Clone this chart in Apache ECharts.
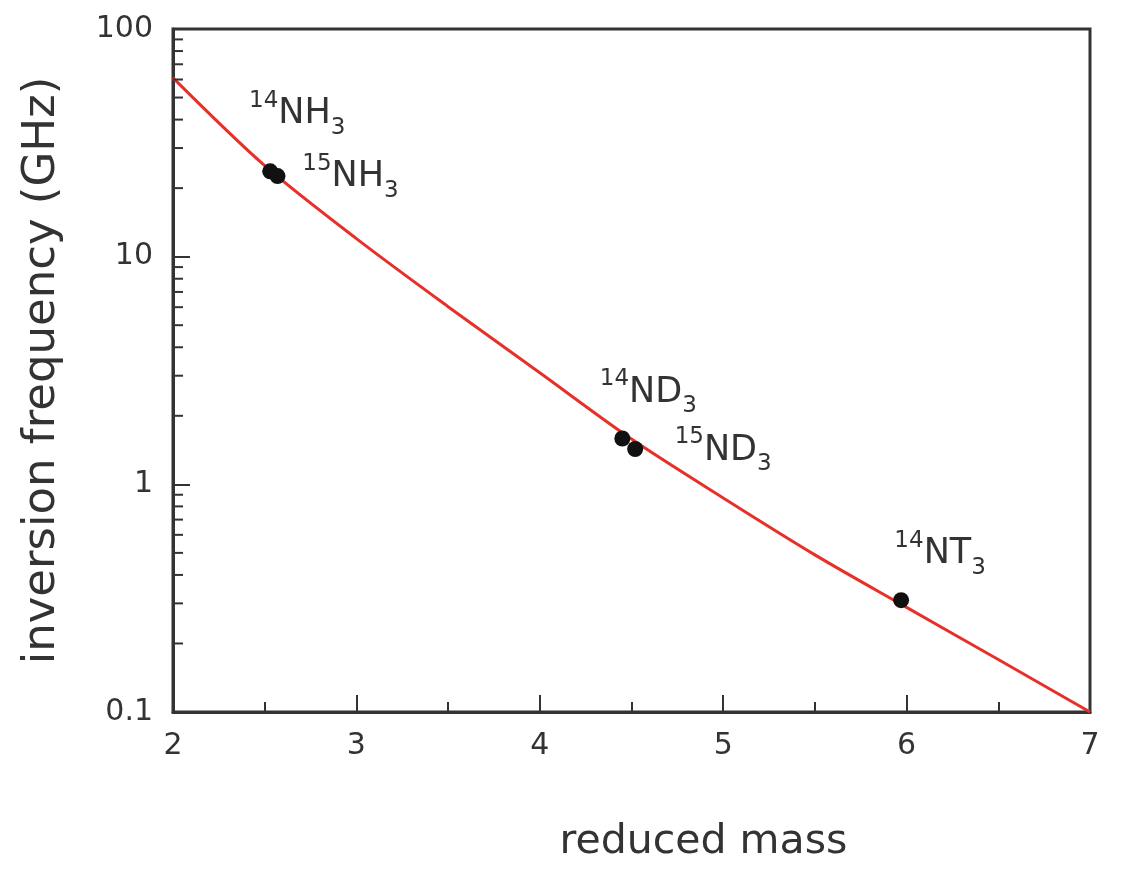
<!DOCTYPE html>
<html>
<head>
<meta charset="utf-8">
<script src="https://cdn.jsdelivr.net/npm/echarts@6/dist/echarts.min.js"></script>
<style>html,body{margin:0;padding:0;background:#fff;}#chart{width:1121px;height:871px;}</style>
</head>
<body>
<div id="chart"></div>
<script>
// ---- data ----
const curveMass = [2, 2.5, 3, 3.5, 4, 4.5, 5, 5.5, 6, 6.5, 7];
const curveFreq = [61, 25.1, 12.0, 6.03, 3.09, 1.58, 0.871, 0.49, 0.288, 0.17, 0.1];
const molIsotope = ['14', '15', '14', '15', '14'];
const molFormula = ['NH', 'NH', 'ND', 'ND', 'NT'];
const molMass = [2.53, 2.57, 4.45, 4.52, 5.97];
const molFreq = [23.7, 22.6, 1.59, 1.43, 0.31];
const yMinorTickValues = [0.2, 0.3, 0.4, 0.5, 0.6, 0.7, 0.8, 0.9, 2, 3, 4, 5, 6, 7, 8, 9, 20, 30, 40, 50, 60, 70, 80, 90];
const xMin = 2, xMax = 7, yMin = 0.1, yMax = 100;

// ---- styling ----
const FONT = 'DejaVu Sans';
const TXT = '#333333';
const labelOffsets = [[27, -57], [73, 1], [26, -46], [88, 2], [39, -46]];

const chart = echarts.init(document.getElementById('chart'), null, {renderer: 'canvas'});

const scatterData = molMass.map((m, i) => ({
  value: [m, molFreq[i]],
  label: {
    show: true,
    position: 'inside',
    align: 'center',
    verticalAlign: 'middle',
    offset: labelOffsets[i],
    color: TXT,
    formatter: '{sup|' + molIsotope[i] + '}{main|' + molFormula[i] + '}{sub|3}',
    rich: {
      sup: {fontFamily: FONT, fontSize: 23, color: TXT, lineHeight: 30, verticalAlign: 'top'},
      main: {fontFamily: FONT, fontSize: 35, color: TXT, lineHeight: 50},
      sub: {fontFamily: FONT, fontSize: 23, color: TXT, lineHeight: 30, verticalAlign: 'bottom'}
    }
  }
}));

const option = {
  animation: false,
  backgroundColor: '#ffffff',
  grid: {left: 173, right: 31, top: 29, bottom: 159, show: true, borderColor: '#333', borderWidth: 3, containLabel: false},
  xAxis: {
    type: 'value', min: xMin, max: xMax, interval: 1,
    name: 'reduced mass', nameLocation: 'middle', nameGap: 110,
    nameTextStyle: {fontFamily: FONT, fontSize: 41, color: TXT, padding: [0, 0, 0, 144]},
    axisLine: {show: true, lineStyle: {color: '#333', width: 3}},
    axisTick: {show: true, inside: true, length: 17, lineStyle: {color: '#333', width: 2}},
    minorTick: {show: true, splitNumber: 2, length: 10, lineStyle: {color: '#333', width: 2}},
    axisLabel: {fontFamily: FONT, fontSize: 30, color: TXT, margin: 19},
    splitLine: {show: false}
  },
  yAxis: {
    type: 'log', logBase: 10, min: yMin, max: yMax,
    name: 'inversion frequency (GHz)', nameLocation: 'middle', nameGap: 108, nameRotate: 90,
    nameTextStyle: {fontFamily: FONT, fontSize: 45, color: TXT},
    axisLine: {show: true, lineStyle: {color: '#333', width: 3}},
    axisTick: {show: true, inside: true, length: 17, lineStyle: {color: '#333', width: 2}},
    axisLabel: {fontFamily: FONT, fontSize: 30, color: TXT, margin: 20},
    splitLine: {show: false}
  },
  series: [
    {
      type: 'custom',
      silent: true,
      z: 5,
      data: yMinorTickValues.map(v => [xMin, v]),
      renderItem: function (params, api) {
        const p = api.coord([api.value(0), api.value(1)]);
        return {type: 'line', shape: {x1: p[0], y1: p[1], x2: p[0] + 10, y2: p[1]}, style: {stroke: '#333', lineWidth: 2}};
      }
    },
    {
      type: 'line',
      data: curveMass.map((m, i) => [m, curveFreq[i]]),
      smooth: 0.3,
      showSymbol: false,
      lineStyle: {color: '#e8302a', width: 3},
      z: 3
    },
    {
      type: 'scatter',
      data: scatterData,
      symbol: 'circle',
      symbolSize: 16,
      itemStyle: {color: '#111111', opacity: 1},
      z: 4
    }
  ]
};
chart.setOption(option);
</script>
</body>
</html>
